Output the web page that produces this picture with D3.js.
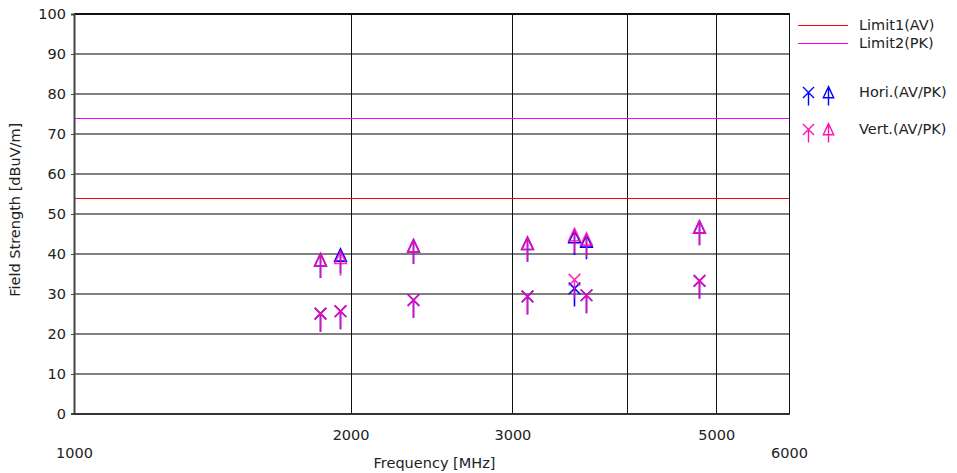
<!DOCTYPE html>
<html>
<head>
<meta charset="utf-8">
<script src="https://cdn.jsdelivr.net/npm/d3@7"></script>
<style>
  body { margin: 0; background: #fff; }
  svg { display: block; font-family: "DejaVu Sans", Verdana, sans-serif; }
  line { shape-rendering: crispEdges; }
</style>
</head>
<body>
<svg id="chart" width="957" height="473"></svg>
<script>
// Measured emissions (frequency in MHz, level in dBuV/m)
const freqs  = [1852, 1946, 2337, 3114, 3500, 3605, 4792];
const horiAV = [25.0, 25.6, 28.4, 29.3, 31.3, 29.6, 33.2];
const horiPK = [38.4, 39.6, 41.9, 42.5, 44.2, 43.1, 46.6];
const vertAV = [25.0, 25.6, 28.4, 29.3, 33.5, 29.6, 33.2];
const vertPK = [38.4, 39.0, 41.9, 42.5, 44.7, 43.6, 46.6];

// Limits
const limitNames  = ["Limit1(AV)", "Limit2(PK)"];
const limitValues = [54, 74];

// Axes
const yTicks = [0, 10, 20, 30, 40, 50, 60, 70, 80, 90, 100];
const xGridFreqs = [2000, 3000, 4000, 5000];
const xLabelsUpper = [2000, 3000, 5000];
const xLabelsLower = [1000, 6000];
const seriesNames = ["Hori.(AV/PK)", "Vert.(AV/PK)"];

const plotL = 74, plotR = 789, plotT = 14, plotB = 413.5;
const fontSize = 14.5;
const textColor = "#222";
const horiColor = "#0000ff";
const vertColor = "#ff10b0";
const limitColors = ["#ff0000", "#ff00ff"];

const svg = d3.select("#chart");
const x = d3.scaleLog().domain([1000, 6000]).range([plotL, plotR]);
const y = d3.scaleLinear().domain([0, 100]).range([plotB, plotT]);

// horizontal grid
svg.append("g").selectAll("line")
  .data(yTicks.filter(v => v > 0 && v < 100))
  .join("line")
  .attr("x1", plotL).attr("x2", plotR)
  .attr("y1", d => Math.round(y(d))).attr("y2", d => Math.round(y(d)))
  .attr("stroke", "#808080").attr("stroke-width", 2);

// vertical grid
svg.append("g").selectAll("line")
  .data(xGridFreqs)
  .join("line")
  .attr("x1", d => Math.round(x(d)) + 0.5).attr("x2", d => Math.round(x(d)) + 0.5)
  .attr("y1", plotT).attr("y2", plotB)
  .attr("stroke", "#111").attr("stroke-width", 1);

// frame: top and right
svg.append("line").attr("x1", plotL).attr("x2", plotR + 1).attr("y1", Math.round(y(100))).attr("y2", Math.round(y(100)))
  .attr("stroke", "#111").attr("stroke-width", 2);
svg.append("line").attr("x1", plotR + 0.5).attr("x2", plotR + 0.5).attr("y1", plotT).attr("y2", plotB)
  .attr("stroke", "#111").attr("stroke-width", 1);

// limit lines
svg.append("g").selectAll("line")
  .data(limitValues)
  .join("line")
  .attr("x1", plotL).attr("x2", plotR)
  .attr("y1", d => Math.round(y(d)) + 0.5).attr("y2", d => Math.round(y(d)) + 0.5)
  .attr("stroke", (d, i) => limitColors[i]).attr("stroke-width", 1);

// y axis
const yAxis = svg.append("g")
  .attr("transform", `translate(${plotL},0)`)
  .call(d3.axisLeft(y).tickValues(yTicks).tickSize(3).tickPadding(5).tickFormat(d3.format("d")));
yAxis.select(".domain").attr("stroke", "#444").attr("stroke-width", 2);
yAxis.selectAll(".tick line").attr("stroke", "#444");
yAxis.selectAll("text").attr("font-size", fontSize).attr("font-family", "DejaVu Sans, Verdana, sans-serif").attr("fill", textColor);

// x axis baseline
svg.append("line").attr("x1", plotL - 1).attr("x2", plotR + 1).attr("y1", 414).attr("y2", 414)
  .attr("stroke", "#333").attr("stroke-width", 2);

// x tick labels (two staggered rows)
function xLabelRow(vals, pad) {
  const g = svg.append("g")
    .attr("transform", `translate(0,${plotB})`)
    .call(d3.axisBottom(x).tickValues(vals).tickSize(0).tickPadding(pad).tickFormat(d3.format("d")));
  g.select(".domain").remove();
  g.selectAll("text").attr("font-size", fontSize).attr("font-family", "DejaVu Sans, Verdana, sans-serif").attr("fill", textColor);
}
xLabelRow(xLabelsUpper, 16);
xLabelRow(xLabelsLower, 34);

// axis titles
svg.append("text")
  .attr("x", (plotL + plotR) / 2 + 3).attr("y", 468)
  .attr("text-anchor", "middle").attr("font-size", fontSize).attr("fill", textColor)
  .text("Frequency [MHz]");
svg.append("text")
  .attr("transform", `translate(20,${(plotT + plotB) / 2 - 4}) rotate(-90)`)
  .attr("text-anchor", "middle").attr("font-size", fontSize).attr("fill", textColor)
  .text("Field Strength [dBuV/m]");

// marker shapes: cross and triangle, each with a stem pointing down
function crossPath(cx, cy, h, stem) {
  return `M${cx - h},${cy - h}L${cx + h},${cy + h}M${cx + h},${cy - h}L${cx - h},${cy + h}M${cx},${cy}L${cx},${cy + stem}`;
}
function triPath(cx, cy, h, stem) {
  const t = h + 0.7;
  return `M${cx},${cy - t}L${cx + h},${cy + h}L${cx - h},${cy + h}Z M${cx},${cy - t}L${cx},${cy + stem}`;
}

function drawSeries(av, pk, color, opacity) {
  const g = svg.append("g").attr("fill", "none").attr("stroke", color)
    .attr("stroke-width", 1.6).attr("opacity", opacity);
  g.selectAll("path.av").data(freqs).join("path").attr("class", "av")
    .attr("d", (f, i) => crossPath(Math.round(x(f)) + 0.5, y(av[i]), 5.8, 18));
  g.selectAll("path.pk").data(freqs).join("path").attr("class", "pk")
    .attr("d", (f, i) => triPath(Math.round(x(f)) + 0.5, y(pk[i]), 5.8, 18));
}
drawSeries(horiAV, horiPK, horiColor, 1);
drawSeries(vertAV, vertPK, vertColor, 0.88);

// legend
const lg = svg.append("g").attr("font-size", fontSize).attr("fill", textColor);
const lineRows = [25.5, 43.5];
limitNames.forEach((name, i) => {
  lg.append("line").attr("x1", 798).attr("x2", 848).attr("y1", lineRows[i]).attr("y2", lineRows[i])
    .attr("stroke", limitColors[i]).attr("stroke-width", 1);
  lg.append("text").attr("x", 859).attr("y", lineRows[i] - 0.5).attr("dy", "0.35em").text(name);
});
const markRows = [92.5, 129.5];
const markColors = [horiColor, vertColor];
seriesNames.forEach((name, i) => {
  const cy = markRows[i];
  lg.append("path").attr("d", crossPath(808.5, cy, 5.5, 13))
    .attr("fill", "none").attr("stroke", markColors[i]).attr("stroke-width", 1.4);
  lg.append("path").attr("d", triPath(828.5, cy, 5.2, 13))
    .attr("fill", "none").attr("stroke", markColors[i]).attr("stroke-width", 1.4);
  lg.append("text").attr("x", 859).attr("y", cy - 1).attr("dy", "0.35em").text(name);
});
</script>
</body>
</html>
